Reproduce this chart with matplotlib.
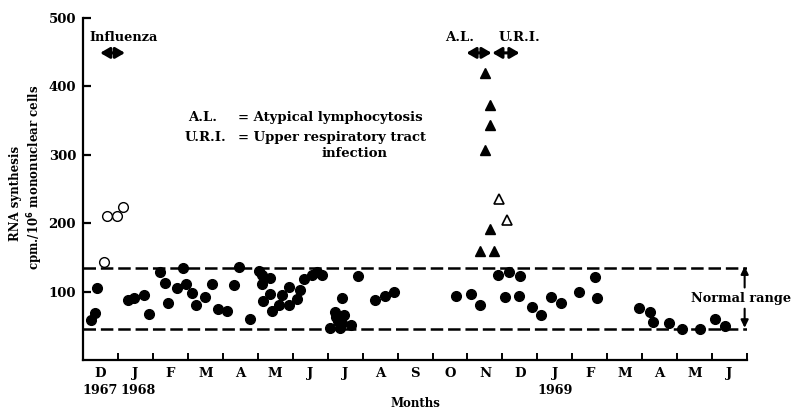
import matplotlib
matplotlib.use("Agg")
import matplotlib.pyplot as plt

plt.rcParams['font.family'] = 'DejaVu Serif'
plt.rcParams['font.weight'] = 'bold'
plt.rcParams['lines.scale_dashes'] = False

# months from start of Dec 1967 (0) to end of Jun 1969 (19)
month_letters = ["D", "J", "F", "M", "A", "M", "J", "J", "A", "S",
                 "O", "N", "D", "J", "F", "M", "A", "M", "J"]
year_pos = [0.49, 1.58, 13.5]
year_text = ["1967", "1968", "1969"]

# filled circles - routine samples
dots_x = [0.22, 0.34, 0.41,
          1.28, 1.46, 1.74, 1.89,
          2.20, 2.34, 2.44, 2.68, 2.85, 2.94,
          3.12, 3.23, 3.48, 3.69, 3.87,
          4.13, 4.31, 4.46, 4.79,
          5.04, 5.12, 5.34, 5.13, 5.34, 5.15, 5.41, 5.69, 5.60, 5.90, 5.89,
          6.12, 6.20, 6.31, 6.56, 6.70, 6.84,
          7.08, 7.20, 7.25, 7.30, 7.36, 7.41, 7.46, 7.42, 7.66, 7.87,
          8.34, 8.63, 8.90,
          10.68,
          11.10, 11.36, 11.87,
          12.06, 12.18, 12.49, 12.46, 12.84,
          13.09, 13.39, 13.68,
          14.20, 14.65, 14.70,
          15.91, 16.22, 16.30, 16.77,
          17.13, 17.66,
          18.09, 18.36]
dots_y = [58, 68, 106,
          88, 91, 95, 67,
          128, 112, 83, 106, 135, 111,
          98, 80, 92, 111, 74,
          72, 109, 136, 60,
          130, 124, 120, 111, 96, 86, 72, 95, 81, 107, 81,
          89, 103, 118, 124, 129, 124,
          47, 70, 63, 57, 47, 90, 66, 54, 51, 123,
          88, 93, 100,
          93,
          97, 80, 124,
          92, 128, 123, 93, 77,
          66, 92, 84,
          99, 121, 91,
          76, 70, 56, 54,
          46, 45,
          60, 50]

# open circles - influenza
flu_x = [0.61, 0.68, 0.96, 1.13]
flu_y = [143, 210, 210, 223]

# filled triangles - atypical lymphocytosis
al_x = [11.51, 11.65, 11.63, 11.50, 11.63, 11.36, 11.77]
al_y = [419, 373, 343, 307, 191, 160, 160]

# open triangles - upper respiratory tract infection
uri_x = [11.89, 12.12]
uri_y = [235, 205]

normal_low, normal_high = 45, 135

fig = plt.figure(figsize=(7.93, 4.12), dpi=100)
ax = fig.add_axes([0.1047, 0.1262, 0.8374, 0.8301])
ax.set_xlim(0, 19)
ax.set_ylim(0, 500)

for s in ["top", "right"]:
    ax.spines[s].set_visible(False)
for s in ["left", "bottom"]:
    ax.spines[s].set_linewidth(1.6)

# normal range dashed lines
for v in (normal_low, normal_high):
    ax.plot([0, 19], [v, v], color="black", lw=1.8, dashes=(9, 3.5),
            solid_capstyle="butt", dash_capstyle="butt", zorder=1)

ax.plot(dots_x, dots_y, "o", color="black", ms=7, zorder=3)
ax.plot(flu_x, flu_y, "o", mfc="white", mec="black", mew=1.0, ms=7, zorder=3)
ax.plot(al_x, al_y, "^", color="black", ms=6.5, zorder=3)
ax.plot(uri_x, uri_y, "^", mfc="white", mec="black", mew=1.2, ms=6.5, zorder=3)

# axes ticks
ax.set_yticks([100, 200, 300, 400, 500])
ax.tick_params(axis="y", direction="in", length=6, width=1.6, labelsize=9.5, pad=5)
ax.set_xticks(range(1, 20))
ax.set_xticklabels([])
ax.tick_params(axis="x", direction="in", length=5, width=1.4)

for i, m in enumerate(month_letters):
    ax.text(i + 0.5, -19, m, ha="center", va="center", fontsize=9.5)
for p, yr in zip(year_pos, year_text):
    ax.text(p, -44, yr, ha="center", va="center", fontsize=9.2)

ax.text(9.5, -64, "Months", ha="center", va="center", fontsize=8.5, clip_on=False)
fig.text(0.019, 0.53, "RNA synthesis", rotation=90, ha="center", va="center", fontsize=8.5)
fig.text(0.045, 0.57, "cpm./10$^{6}$ mononuclear cells", rotation=90, ha="center",
         va="center", fontsize=8.5)

arrow_kw = dict(arrowstyle="<|-|>,head_length=0.55,head_width=0.32", color="black", lw=2.2,
                shrinkA=0, shrinkB=0)

# influenza
ax.text(0.17, 471, "Influenza", ha="left", va="center", fontsize=9.3)
ax.annotate("", xy=(0.49, 449), xytext=(1.2, 449), arrowprops=arrow_kw)

# A.L. and U.R.I.
ax.text(10.77, 471, "A.L.", ha="center", va="center", fontsize=9.5)
ax.text(12.5, 471, "U.R.I.", ha="center", va="center", fontsize=9.5)
ax.annotate("", xy=(10.97, 449), xytext=(11.69, 449), arrowprops=arrow_kw)
ax.annotate("", xy=(11.71, 449), xytext=(12.49, 449), arrowprops=arrow_kw)

# key
ax.text(3.0, 354, "A.L.", ha="left", va="center", fontsize=9.5)
ax.text(4.43, 354, "= Atypical lymphocytosis", ha="left", va="center", fontsize=9.5)
ax.text(2.91, 326, "U.R.I.", ha="left", va="center", fontsize=9.5)
ax.text(4.43, 326, "= Upper respiratory tract", ha="left", va="center", fontsize=9.5)
ax.text(7.77, 302, "infection", ha="center", va="center", fontsize=9.5)

# normal range marker
single_kw = dict(arrowstyle="-|>,head_length=0.45,head_width=0.22", color="black", lw=1.5,
                 shrinkA=0, shrinkB=0)
ax.annotate("", xy=(18.93, normal_high + 2), xytext=(18.93, 106), arrowprops=single_kw,
            annotation_clip=False)
ax.annotate("", xy=(18.93, normal_low + 2), xytext=(18.93, 75), arrowprops=single_kw,
            annotation_clip=False)
ax.text(18.82, 90, "Normal range", ha="center", va="center", fontsize=9.3, clip_on=False)

fig.savefig("out.png", dpi=100)
